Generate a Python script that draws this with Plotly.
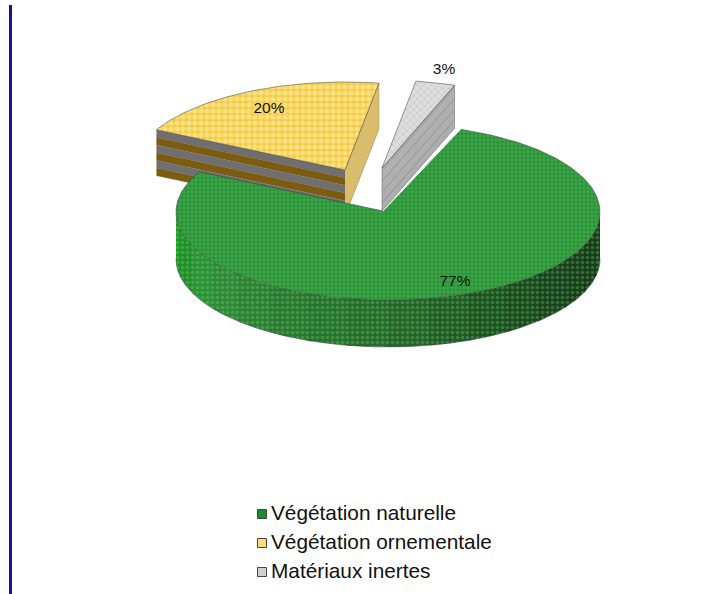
import numpy as np
import plotly.graph_objects as go

# ---- data ----
categories = ["Végétation naturelle", "Végétation ornementale", "Matériaux inertes"]
values = [77, 20, 3]
label_text = ["77%", "20%", "3%"]

# ---- drawing parameters (pixel-like axis units) ----
W, H = 717, 594
RX, RY = 212, 88
START_ANGLE = 20          # clockwise from 12 o'clock
centers = [(388, 212), (345, 170), (382, 168)]
apexes = [(383, 211), (345, 170), (382, 168)]
depths = [47, 46, 43]
label_pos = [(455, 282), (269, 109.5), (444, 70)]
legend_x_marker, legend_x_text = 262, 271
legend_y = [515, 544, 573]

EDGE = "rgba(60,60,60,0.75)"
patterns = [
    dict(shape="+", size=4, solidity=0.42, fgcolor="#126F22", bgcolor="#3CA748"),
    dict(shape=".", size=6, solidity=0.55, fgcolor="#FFF3BE", bgcolor="#F4CC45"),
    dict(shape="x", size=5, solidity=0.3, fgcolor="#B4B4B4", bgcolor="#DEDEDE"),
]
swatch_colors = ["#1F8A30", "#F7DC7A", "#CFCFCF"]

# ---- slice angles derived from the values ----
total = sum(values)
spans = [v / total * 360 for v in values]
starts = [START_ANGLE + sum(spans[:i]) for i in range(len(values))]


def rim(center, deg, dy=0):
    a = np.radians(deg)
    return center[0] + RX * np.sin(a), center[1] - RY * np.cos(a) + dy


def arc(center, a0, a1, dy=0, n=90):
    ang = np.linspace(a0, a1, n)
    return rim(center, ang, dy)


fig = go.Figure()


def poly(xs, ys, fill, line=EDGE, lw=0.7, pattern=None):
    kw = dict(fillpattern=pattern) if pattern else {}
    fig.add_trace(go.Scatter(
        x=list(xs), y=list(ys), mode="lines", fill="toself", fillcolor=fill,
        line=dict(color=line, width=lw), hoverinfo="skip", showlegend=False, **kw))


def wall_band(p0, p1, depth, colors):
    """Flat cut face between two top points, split into horizontal bands."""
    n = len(colors)
    for i, c in enumerate(colors):
        d0, d1 = depth * i / n, depth * (i + 1) / n
        poly([p0[0], p1[0], p1[0], p0[0]],
             [p0[1] + d0, p1[1] + d0, p1[1] + d1, p0[1] + d1], c, line=c, lw=0.2)


# -- ornamental slice (index 1) --
c1, d1 = centers[1], depths[1]
a0, a1 = starts[1], starts[1] + spans[1]
left_pt, right_pt = rim(c1, a0), rim(c1, a1)
wall_band(left_pt, apexes[1], d1, ["#6F6F72", "#7B5C10"] * 3)
poly([apexes[1][0], right_pt[0], right_pt[0], apexes[1][0]],
     [apexes[1][1], right_pt[1], right_pt[1] + d1, apexes[1][1] + d1],
     "#D9BD6C", line="#8A7A45", lw=0.5)
ax, ay = arc(c1, a0, a1)
poly([apexes[1][0], *ax, apexes[1][0]], [apexes[1][1], *ay, apexes[1][1]],
     patterns[1]["bgcolor"], pattern=patterns[1])

# -- inert slice (index 2) --
c2, d2 = centers[2], depths[2]
a0, a1 = starts[2], starts[2] + spans[2]
right_pt = rim(c2, a1)
gray_bands = ["#A8A8A8", "#B0B0B0", "#A6A6A6", "#AEAEAE", "#A6A6A6", "#AEAEAE", "#A4A4A4", "#ACACAC"]
wall_band(apexes[2], right_pt, d2, gray_bands)
poly([apexes[2][0], right_pt[0], right_pt[0], apexes[2][0], apexes[2][0]],
     [apexes[2][1], right_pt[1], right_pt[1] + d2, apexes[2][1] + d2, apexes[2][1]],
     "rgba(0,0,0,0)", line="#777777", lw=0.6)
ax, ay = arc(c2, a0, a1, n=20)
poly([apexes[2][0], *ax, apexes[2][0]], [apexes[2][1], *ay, apexes[2][1]],
     patterns[2]["bgcolor"], pattern=patterns[2])

# -- natural vegetation slice (index 0): outer wall, shaded from left to right --
c0, d0 = centers[0], depths[0]
wall_shades = ["#179A1F", "#1F9028", "#2A9434", "#2C8A34", "#2A8231", "#277A2D",
               "#25742B", "#246D29", "#226526", "#1F5C23", "#1B531F", "#184A1C",
               "#16441A", "#153F18", "#143C17", "#153F18"]
n_seg = len(wall_shades)
edges = np.linspace(270, 90, n_seg + 1)
for i, shade in enumerate(wall_shades):
    lo = edges[i]
    hi = max(edges[i + 1] - 1.5, 90)   # slight overlap hides the seams
    tx, ty = arc(c0, lo, hi, n=12)
    bx, by = arc(c0, hi, lo, dy=d0, n=12)
    poly([*tx, *bx], [*ty, *by], shade, line="rgba(0,0,0,0)", lw=0,
         pattern=dict(shape=".", size=5, solidity=0.4, fgcolor="#8FD08F",
                      fgopacity=0.3, bgcolor=shade))
bx, by = arc(c0, 270, 90, dy=d0, n=160)
fig.add_trace(go.Scatter(x=bx, y=by, mode="lines", line=dict(color=EDGE, width=0.7),
                         hoverinfo="skip", showlegend=False))

a0, a1 = starts[0], starts[0] + spans[0]
ax, ay = arc(c0, a0, a1, n=260)
poly([apexes[0][0], *ax, apexes[0][0]], [apexes[0][1], *ay, apexes[0][1]],
     patterns[0]["bgcolor"], pattern=patterns[0])

# white sliver between the inert wall and the green cut edge
e = rim(c0, starts[0])
fig.add_trace(go.Scatter(x=[apexes[0][0], e[0]], y=[apexes[0][1], e[1]], mode="lines",
                         line=dict(color="white", width=1), hoverinfo="skip", showlegend=False))

# -- percentage labels --
fig.add_trace(go.Scatter(
    x=[p[0] for p in label_pos], y=[p[1] for p in label_pos], mode="text",
    text=label_text, textposition="middle center",
    textfont=dict(family="Liberation Sans", size=15.5, color="#111111"),
    hoverinfo="skip", showlegend=False))

# -- legend: swatches and texts --
fig.add_trace(go.Scatter(
    x=[legend_x_marker] * 3, y=[y - 1 for y in legend_y], mode="markers",
    marker=dict(symbol="square", size=9, color=swatch_colors,
                line=dict(color="#444444", width=1)),
    hoverinfo="skip", showlegend=False))
fig.add_trace(go.Scatter(
    x=[legend_x_text] * 3, y=legend_y, mode="text", text=categories,
    textposition="middle right",
    textfont=dict(family="Liberation Sans", size=20.8, color="#111111"),
    hoverinfo="skip", showlegend=False))

fig.update_layout(
    width=W, height=H, autosize=False,
    margin=dict(l=0, r=0, t=0, b=0),
    paper_bgcolor="white", plot_bgcolor="white",
    xaxis=dict(range=[0, W], visible=False, fixedrange=True),
    yaxis=dict(range=[H, 0], visible=False, fixedrange=True),
    shapes=[dict(type="line", xref="x", yref="y", x0=10.5, x1=10.5, y0=5, y1=H,
                 line=dict(color="#15158F", width=3))],
)
fig.write_html("out.html", config=dict(displayModeBar=False),
               post_script="document.body.style.margin='0';")
